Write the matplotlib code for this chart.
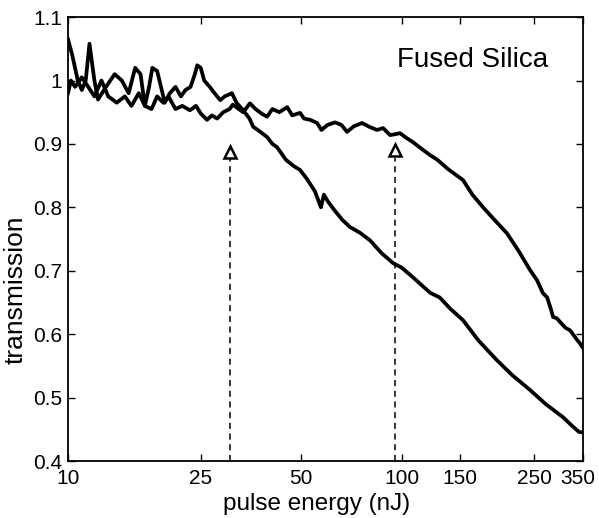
import matplotlib.pyplot as plt
from matplotlib.ticker import FixedLocator, NullLocator, FixedFormatter
from matplotlib.transforms import ScaledTranslation

# curve with early roll-off (~30 nJ)
energy_a = [10, 10.3, 10.7, 11, 11.3, 11.6, 12, 12.3, 13, 13.8, 14.5, 15.2, 15.9, 16.5,
            17, 17.5, 17.9, 18.5, 19, 19.5, 20.2, 21, 21.8, 22.5, 23.3, 24, 24.4, 25,
            25.6, 26.6, 27.5, 28.6, 29.5, 31, 32, 33.5, 35, 35.9, 37.5, 39.5, 41, 42.3,
            45, 47.5, 49.6, 52, 55, 57.3, 58.5, 60, 63, 66.5, 70, 75, 80.4, 87, 94.3,
            100, 108, 115, 122, 130, 140, 152.8, 170, 193, 215, 242.7, 270, 304.8, 325,
            340, 350]
trans_a = [1.065, 1.04, 1.0, 0.985, 1.0, 1.058, 1.0, 0.97, 0.99, 1.01, 1.0, 0.98, 1.02, 1.01,
           0.96, 0.99, 1.02, 1.015, 0.99, 0.965, 0.98, 0.99, 0.975, 0.985, 0.99, 1.01, 1.024, 1.02,
           1.0, 0.99, 0.98, 0.969, 0.975, 0.98, 0.965, 0.953, 0.94, 0.927, 0.92, 0.911, 0.90, 0.895,
           0.875, 0.865, 0.859, 0.845, 0.825, 0.80, 0.82, 0.81, 0.795, 0.78, 0.769, 0.76, 0.748, 0.728, 0.712,
           0.705, 0.69, 0.677, 0.665, 0.658, 0.64, 0.622, 0.59, 0.559, 0.535, 0.512, 0.49, 0.469, 0.455,
           0.446, 0.445]

# curve with late roll-off (~95 nJ)
energy_b = [10, 10.2, 10.5, 11, 11.5, 12, 12.6, 13.2, 14, 14.8, 15.5, 16.3, 17, 17.8, 18.5,
            19.3, 20, 21, 22, 23.2, 24.2, 25, 26.1, 27, 28, 29.2, 30.5, 31.2, 32.5, 33.5,
            35.1, 36.5, 38, 39.5, 41, 43, 45.4, 47, 49.6, 51, 53.2, 55.8, 57.5, 60, 63.2,
            66, 68.6, 72, 76.1, 80, 84.4, 88, 92.3, 95, 98.9, 103, 108, 115, 122, 128, 138,
            152.8, 163, 175.5, 190, 207, 225, 242.7, 254.7, 265, 273, 280, 284.5, 292, 300,
            310, 320, 335.7, 343, 350]
trans_b = [0.98, 1.0, 0.99, 1.005, 0.99, 0.975, 1.0, 0.975, 0.965, 0.975, 0.96, 0.98, 0.96, 0.955, 0.975,
           0.965, 0.975, 0.955, 0.96, 0.953, 0.96, 0.948, 0.938, 0.945, 0.94, 0.95, 0.955, 0.962, 0.955, 0.95,
           0.964, 0.955, 0.948, 0.943, 0.955, 0.95, 0.958, 0.945, 0.949, 0.94, 0.938, 0.933, 0.922, 0.93, 0.934,
           0.93, 0.919, 0.928, 0.933, 0.927, 0.922, 0.925, 0.914, 0.915, 0.917, 0.91, 0.903, 0.892, 0.882, 0.875, 0.86,
           0.843, 0.82, 0.80, 0.78, 0.759, 0.73, 0.701, 0.685, 0.665, 0.658, 0.64, 0.627, 0.625, 0.618,
           0.61, 0.606, 0.591, 0.585, 0.578]

# threshold markers
arrow_x = [30.5, 95.5]
arrow_tip = [0.888, 0.890]

xticks = [10, 25, 50, 100, 150, 250, 350]
yticks = [0.4, 0.5, 0.6, 0.7, 0.8, 0.9, 1.0, 1.1]
ytick_labels = ["0.4", "0.5", "0.6", "0.7", "0.8", "0.9", "1", "1.1"]

plt.rcParams["font.family"] = ["Liberation Sans", "DejaVu Sans"]

fig = plt.figure(figsize=(5.99, 5.18), dpi=100)
ax = fig.add_axes([0.1135, 0.11, 0.86, 0.857])

ax.plot(energy_a, trans_a, color="black", lw=2.7, solid_joinstyle="round")
ax.plot(energy_b, trans_b, color="black", lw=2.7, solid_joinstyle="round")

for x, tip in zip(arrow_x, arrow_tip):
    ax.plot([x, x], [0.4, tip - 0.012], color="black", lw=1.1, ls=(0, (4, 3)))
    ax.plot([x], [tip], marker="^", ms=9, mfc="white", mec="black", mew=1.8)

ax.set_xscale("log")
ax.set_xlim(10, 350)
ax.set_ylim(0.4, 1.1)
ax.xaxis.set_major_locator(FixedLocator(xticks))
ax.xaxis.set_major_formatter(FixedFormatter([str(t) for t in xticks]))
ax.xaxis.set_minor_locator(NullLocator())
ax.set_yticks(yticks)
ax.set_yticklabels(ytick_labels)

ax.tick_params(direction="in", length=5, width=1, top=True, right=True, labelsize=15)
ax.tick_params(axis="x", pad=6)
ax.tick_params(axis="y", pad=4)
for s in ax.spines.values():
    s.set_linewidth(1.3)

# keep the last x label inside the figure
last = ax.get_xticklabels()[-1]
last.set_transform(last.get_transform() + ScaledTranslation(-4 / 72, 0, fig.dpi_scale_trans))

ax.set_xlabel("pulse energy (nJ)", fontsize=17.5)
ax.xaxis.set_label_coords(0.4816, -0.073)
ax.set_ylabel("transmission", fontsize=19)
ax.yaxis.set_label_coords(-0.078, 0.385)
ax.text(0.786, 0.903, "Fused Silica", transform=ax.transAxes, ha="center", va="center", fontsize=20)

fig.savefig("out.png", dpi=100)
